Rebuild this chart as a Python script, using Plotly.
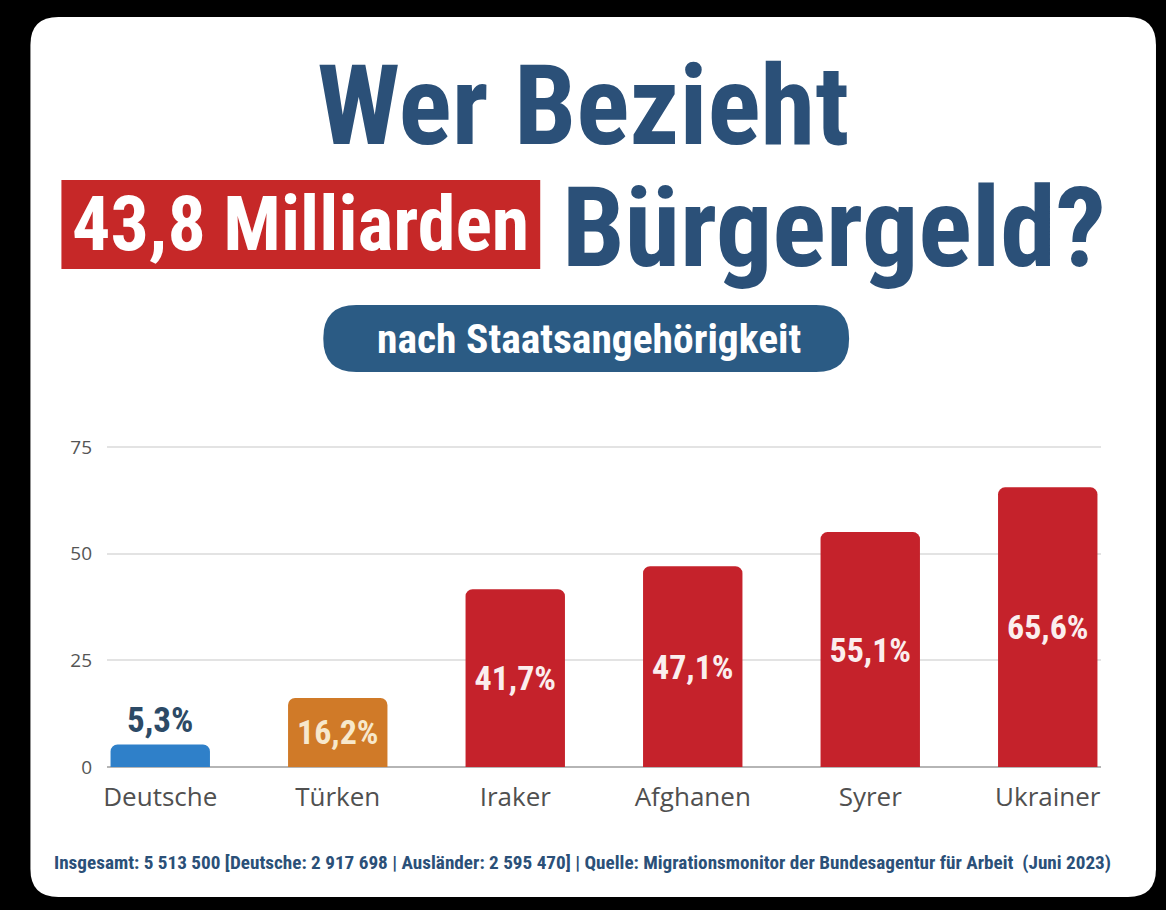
import plotly.graph_objects as go

categories = ["Deutsche", "Türken", "Iraker", "Afghanen", "Syrer", "Ukrainer"]
values = [5.3, 16.2, 41.7, 47.1, 55.1, 65.6]
labels = ["5,3%", "16,2%", "41,7%", "47,1%", "55,1%", "65,6%"]
bar_colors = ["#2f80c9", "#d07a28", "#c5222b", "#c5222b", "#c5222b", "#c5222b"]
label_colors = ["#2c4a66", "#f7e8cc", "#fbeeee", "#fbeeee", "#fbeeee", "#fbeeee"]
label_positions = ["outside", "inside", "inside", "inside", "inside", "inside"]
y_ticks = [0, 25, 50, 75]

W, H = 1166, 910
L, R, T, B = 106.6, 1101.0, 443.0, 767.0

def px(x):
    return (x - L) / (R - L)

def py(y):
    return (B - y) / (B - T)

def rounded_path(x0, y0, x1, y1, r):
    pts = [
        f"M {px(x0 + r)},{py(y0)}",
        f"L {px(x1 - r)},{py(y0)}",
        f"Q {px(x1)},{py(y0)} {px(x1)},{py(y0 + r)}",
        f"L {px(x1)},{py(y1 - r)}",
        f"Q {px(x1)},{py(y1)} {px(x1 - r)},{py(y1)}",
        f"L {px(x0 + r)},{py(y1)}",
        f"Q {px(x0)},{py(y1)} {px(x0)},{py(y1 - r)}",
        f"L {px(x0)},{py(y0 + r)}",
        f"Q {px(x0)},{py(y0)} {px(x0 + r)},{py(y0)}",
        "Z",
    ]
    return " ".join(pts)

COND = "Roboto Condensed, Open Sans Condensed, Liberation Sans Narrow, DejaVu Sans Condensed, Arial Narrow, Roboto, sans-serif"
NAVY = "#2b5078"

fig = go.Figure()
fig.add_trace(go.Bar(
    x=categories,
    y=values,
    marker=dict(color=bar_colors, line=dict(width=0)),
    text=labels,
    textposition=label_positions,
    insidetextanchor="middle",
    textangle=0,
    constraintext="none",
    textfont=dict(family=COND, size=34, color=label_colors, weight="bold"),
    outsidetextfont=dict(family=COND, size=35, color=label_colors[0], weight="bold"),
    cliponaxis=False,
    width=0.56,
    hoverinfo="skip",
))

shapes = [
    dict(type="path", xref="paper", yref="paper", layer="below",
         path=rounded_path(30, 17, 1156, 897, 28),
         fillcolor="#ffffff", line=dict(width=0)),
    dict(type="rect", xref="paper", yref="paper", layer="below",
         x0=px(61), x1=px(540), y0=py(269), y1=py(180),
         fillcolor="#c62828", line=dict(width=0)),
    dict(type="path", xref="paper", yref="paper", layer="below",
         path=rounded_path(323, 305, 849, 372, 33),
         fillcolor="#2b5b84", line=dict(width=0)),
]

annotations = [
    dict(text="<b>Wer Bezieht</b>", x=px(583), y=py(106), xref="paper", yref="paper",
         showarrow=False, xanchor="center", yanchor="middle",
         font=dict(family=COND, size=111, color=NAVY, weight=900)),
    dict(text="<b>43,8 Milliarden</b>", x=px(300), y=py(224), xref="paper", yref="paper",
         showarrow=False, xanchor="center", yanchor="middle",
         font=dict(family=COND, size=76, color="#ffffff", weight=900)),
    dict(text="<b>Bürgergeld?</b>", x=px(834), y=py(228), xref="paper", yref="paper",
         showarrow=False, xanchor="center", yanchor="middle",
         font=dict(family=COND, size=112, color=NAVY, weight=900)),
    dict(text="<b>nach Staatsangehörigkeit</b>", x=px(589), y=py(338), xref="paper", yref="paper",
         showarrow=False, xanchor="center", yanchor="middle",
         font=dict(family=COND, size=41.5, color="#ffffff", weight=900)),
    dict(text="<b>Insgesamt: 5 513 500 [Deutsche: 2 917 698 | Ausländer: 2 595 470] | Quelle: Migrationsmonitor der Bundesagentur für Arbeit  (Juni 2023)</b>",
         x=px(582), y=py(862), xref="paper", yref="paper",
         showarrow=False, xanchor="center", yanchor="middle",
         font=dict(family=COND, size=19.2, color=NAVY)),
]

fig.update_layout(
    width=W, height=H,
    margin=dict(l=L, r=W - R, t=T, b=H - B, pad=0),
    paper_bgcolor="#000000",
    plot_bgcolor="rgba(0,0,0,0)",
    showlegend=False,
    barcornerradius=7,
    shapes=shapes,
    annotations=annotations,
    xaxis=dict(
        range=[-0.3, 5.3], showgrid=False, zeroline=False, showline=False,
        ticks="", tickfont=dict(family="Open Sans, sans-serif", size=26, color="#505050"),
        ticklabelstandoff=12,
    ),
    yaxis=dict(
        range=[0, 76], tickvals=y_ticks, showgrid=True, gridcolor="#e3e3e3", gridwidth=1.5,
        zeroline=True, zerolinecolor="#b5b5b5", zerolinewidth=2, showline=False,
        ticks="", tickfont=dict(family="Open Sans, sans-serif", size=19, color="#555555"),
        ticklabelstandoff=14,
    ),
)

fig.write_html("out.html", config={"displayModeBar": False},
               post_script="document.body.style.margin='0';document.body.style.background='#000';")
